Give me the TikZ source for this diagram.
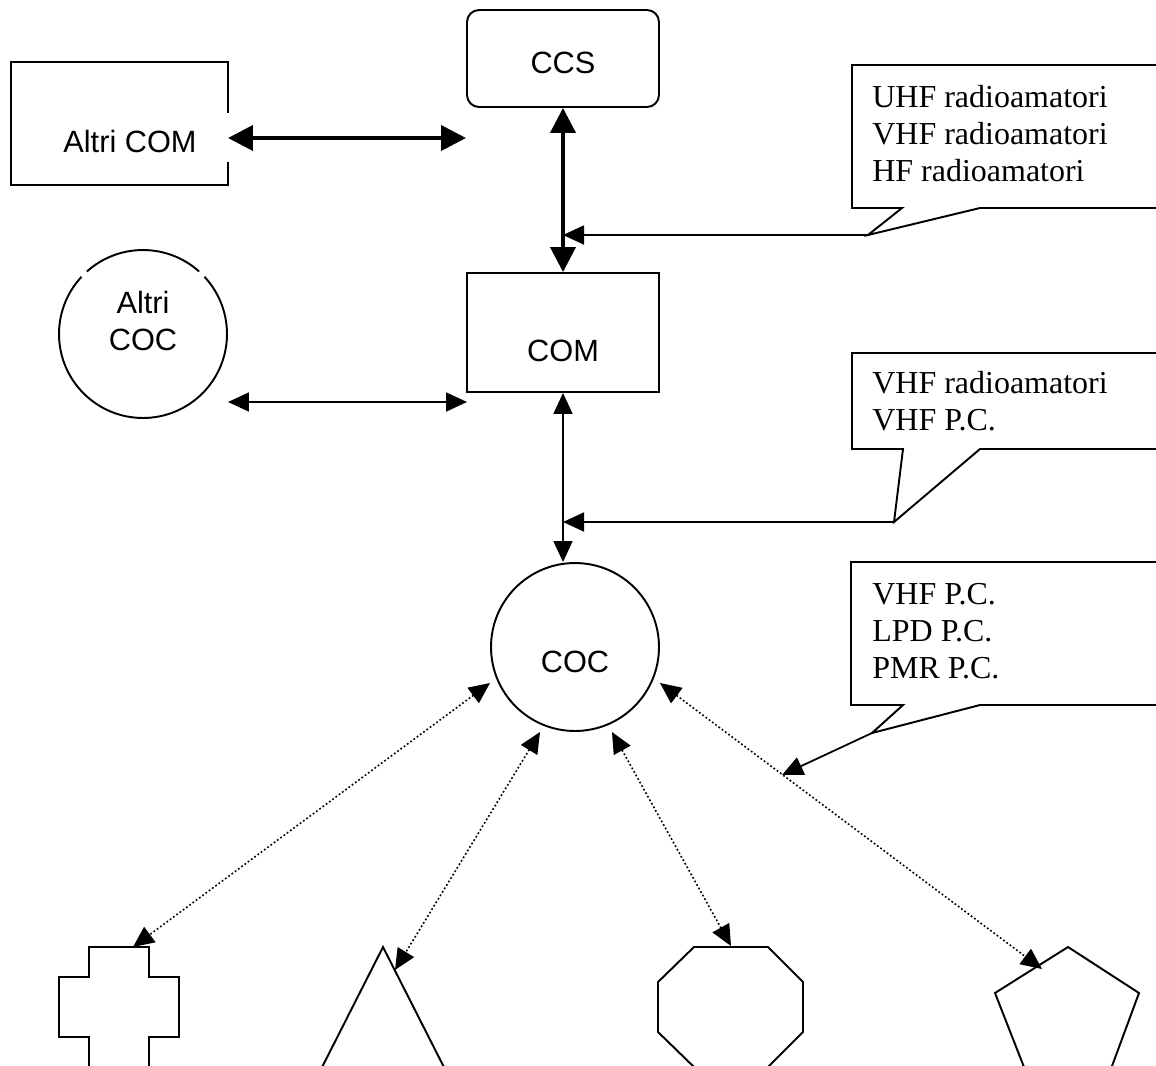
\documentclass[tikz,border=0pt]{standalone}
\usepackage{fontspec}
\setmainfont{Liberation Serif}
\setsansfont{Liberation Sans}
\usetikzlibrary{arrows.meta,calc}

\tikzset{
  bigtip/.tip={Triangle[length=0.5cm, width=0.5cm]},
  smalltip/.tip={Triangle[length=0.42cm, width=0.38cm]},
  shapebox/.style={draw, line width=1.1pt, inner sep=0pt},
  shapeline/.style={draw, line width=1.1pt, line join=miter},
  boxlabel/.style={font=\sffamily\fontsize{17.5}{21}\selectfont, anchor=base, inner sep=0pt},
  calltext/.style={font=\fontsize{18.2}{21}\selectfont, anchor=base west, inner sep=0pt},
  callout/.style={draw, line width=1.1pt, fill=white},
  thicklink/.style={line width=2.2pt, {bigtip}-{bigtip}},
  thinlink/.style={line width=1pt, {smalltip}-{smalltip}},
  dotlink/.style={line width=0.9pt, dash pattern=on 1pt off 1.3pt, {smalltip}-{smalltip}},
  pointer/.style={line width=1pt, -{smalltip}}
}

\begin{document}
\begin{tikzpicture}[x=0.02cm, y=-0.02cm]
    % page frame
    \clip (0, 0) rectangle (1156, 1065);
    % CCS
    \node[shapebox, rounded corners=0.24cm, minimum width=3.84cm, minimum height=1.94cm] (ccs) at (563, 58.5) {};
    \node[boxlabel] (ccs-label) at (563, 73) {CCS};
    % Altri COM
    \node[shapebox, minimum width=4.34cm, minimum height=2.46cm] (altricom) at (119.5, 123.5) {};
    \node[boxlabel] (altricom-label) at (130, 152) {Altri COM};
    \draw[white, line width=2pt] (228, 113) -- (228, 162);
    % COM
    \node[shapebox, minimum width=3.84cm, minimum height=2.38cm] (com) at (563, 332.5) {};
    \node[boxlabel] (com-label) at (563, 361) {COM};
    % Altri COC
    \node[shapebox, circle, minimum size=3.36cm] (altricoc) at (143, 334) {};
    \node[boxlabel] (altricoc-label1) at (143, 313) {Altri};
    \node[boxlabel] (altricoc-label2) at (143, 350) {COC};
    \draw[white, line width=2pt] ($(altricoc.center)+(132:1.68cm)$) arc (132:137:1.68cm);
    \draw[white, line width=2pt] ($(altricoc.center)+(43:1.68cm)$) arc (43:48:1.68cm);
    % COC
    \node[shapebox, circle, minimum size=3.36cm] (coc) at (575, 647) {};
    \node[boxlabel] (coc-label) at (575, 672) {COC};

    % links between the centres
    \coordinate (comlink) at (466, 138);
    \coordinate (altricom-out) at (228, 138);
    \draw[thicklink] (altricom-out) -- (comlink);
    \draw[thicklink] (ccs.south) -- (com.north);
    \coordinate (altricoc-out) at (228, 402);
    \coordinate (com-in) at (467, 402);
    \draw[thinlink] (altricoc-out) -- (com-in);
    \draw[thinlink] (com.south) -- (com.south |- coc.north);

    % callout UHF/VHF/HF
    \coordinate (tip1) at (868, 235);
    \draw[callout] (852, 65) -- (1170, 65) -- (1170, 208) -- (980, 208) -- (tip1) -- (902, 208) -- (852, 208) -- cycle;
    \foreach \t [count=\i] in {UHF radioamatori, VHF radioamatori, HF radioamatori}
        \node[calltext] (call1-\i) at (872, 70+37*\i) {\t};
    \draw[pointer] (tip1) -- (tip1 -| ccs.south);
    % callout VHF
    \coordinate (tip2) at (894, 522);
    \draw[callout] (852, 353) -- (1170, 353) -- (1170, 449) -- (980, 449) -- (tip2) -- (903, 449) -- (852, 449) -- cycle;
    \foreach \t [count=\i] in {VHF radioamatori, VHF P.C.}
        \node[calltext] (call2-\i) at (872, 356+37*\i) {\t};
    \draw[pointer] (tip2) -- (tip2 -| com.south);
    % callout VHF/LPD/PMR
    \coordinate (tip3) at (872, 733);
    \coordinate (field) at (782, 775);
    \draw[callout] (851, 562) -- (1170, 562) -- (1170, 705) -- (980, 705) -- (tip3) -- (903, 705) -- (851, 705) -- cycle;
    \foreach \t [count=\i] in {VHF P.C., LPD P.C., PMR P.C.}
        \node[calltext] (call3-\i) at (872, 567+37*\i) {\t};
    \draw[pointer] (tip3) -- (field);

    % field units
    \draw[shapeline] (89, 947) -- (149, 947) -- (149, 977) -- (179, 977) -- (179, 1037) -- (149, 1037) -- (149, 1075)
        -- (89, 1075) -- (89, 1037) -- (59, 1037) -- (59, 977) -- (89, 977) -- cycle;
    \draw[shapeline] (313, 1085) -- (383, 947) -- (453, 1085);
    \draw[shapeline] (694, 947) -- (768, 947) -- (803, 982) -- (803, 1032) -- (768, 1067) -- (694, 1067)
        -- (658, 1032) -- (658, 982) -- cycle;
    \draw[shapeline] (1068, 947) -- (1139, 993) -- (1105, 1085) -- (1031, 1085) -- (995, 993) -- cycle;

    % links COC - field units
    \coordinate (coc-a) at (490, 683);
    \coordinate (coc-b) at (540, 732);
    \coordinate (coc-c) at (612, 732);
    \coordinate (coc-d) at (660, 683);
    \coordinate (cross-top) at (133, 947);
    \coordinate (tri-top) at (395, 970);
    \coordinate (oct-top) at (731, 946);
    \coordinate (pent-top) at (1042, 969);
    \foreach \a/\b in {coc-a/cross-top, coc-b/tri-top, coc-c/oct-top, coc-d/pent-top}
        \draw[dotlink] (\a) -- (\b);
\end{tikzpicture}
\end{document}
